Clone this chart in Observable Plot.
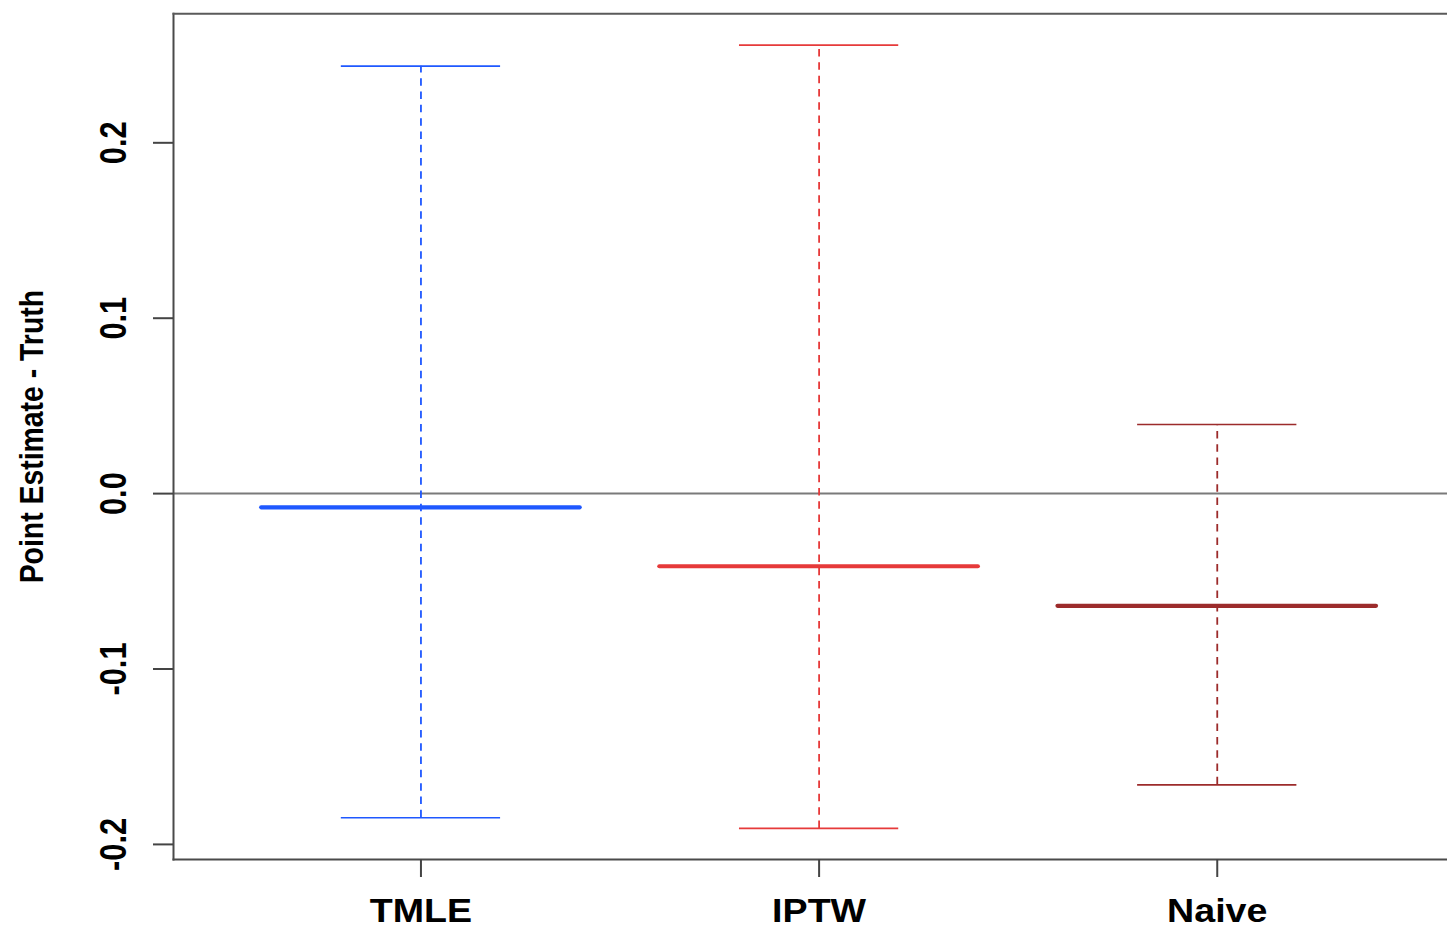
<!DOCTYPE html>
<html>
<head>
<meta charset="utf-8">
<script src="https://cdn.jsdelivr.net/npm/d3@7"></script>
<script src="https://cdn.jsdelivr.net/npm/@observablehq/plot@0.6"></script>
<style>
  html, body { margin: 0; padding: 0; background: #fff; overflow: hidden; }
  svg { display: block; }
</style>
</head>
<body>
<script>
// ---- data ----
const methods = ["TMLE", "IPTW", "Naive"];
const medians = [-0.0078, -0.0414, -0.0640];
const upper   = [0.2437, 0.2557, 0.0394];
const lower   = [-0.1848, -0.1909, -0.1660];
const colors  = ["#1f58ff", "#e63a3a", "#9c2b2b"];
const yTicks  = [-0.2, -0.1, 0.0, 0.1, 0.2];
const yTitle  = "Point Estimate - Truth";

const rows = methods.map((m, i) => ({
  method: m, pos: i + 1, median: medians[i], hi: upper[i], lo: lower[i], color: colors[i]
}));

const boxHalf = 0.4;   // half box width (x units)
const capHalf = 0.2;   // half staple width (x units)

const chart = Plot.plot({
  width: 1447,
  height: 925,
  marginLeft: 173,
  marginRight: 0,
  marginTop: 13.3,
  marginBottom: 66,
  style: { fontFamily: "'Liberation Sans', Arial, sans-serif", background: "#fff", color: "#000" },
  x: { type: "linear", domain: [0.3785, 3.5783], axis: null },
  y: { domain: [-0.2086, 0.27355], axis: null },
  marks: [
    Plot.ruleY([0], { stroke: "#7a7a7a", strokeWidth: 2 }),
    // whiskers
    Plot.ruleX(rows, { x: "pos", y1: "lo", y2: "hi", stroke: "color", strokeWidth: 1.8, strokeDasharray: "7.5,5.8" }),
    // staples
    Plot.ruleY(rows, { y: "hi", x1: d => d.pos - capHalf, x2: d => d.pos + capHalf, stroke: "color", strokeWidth: 1.7 }),
    Plot.ruleY(rows, { y: "lo", x1: d => d.pos - capHalf, x2: d => d.pos + capHalf, stroke: "color", strokeWidth: 1.7 }),
    // medians
    Plot.ruleY(rows, { y: "median", x1: d => d.pos - boxHalf, x2: d => d.pos + boxHalf, stroke: "color", strokeWidth: 4.2, strokeLinecap: "round" }),
    // frame (left, top, bottom)
    Plot.frame({ anchor: "left", stroke: "#4a4a4a", strokeWidth: 2 }),
    Plot.frame({ anchor: "top", stroke: "#5a5a5a", strokeWidth: 2 }),
    Plot.frame({ anchor: "bottom", stroke: "#4a4a4a", strokeWidth: 2 }),
    // axis ticks
    Plot.axisY(yTicks, { anchor: "left", tickSize: 20, tickFormat: () => "", label: null, stroke: "#444", strokeWidth: 2 }),
    Plot.axisX(rows.map(d => d.pos), { anchor: "bottom", tickSize: 18, tickFormat: () => "", label: null, stroke: "#444", strokeWidth: 2 }),
    // y tick labels
    Plot.text(yTicks, {
      y: d => d, text: d => d.toFixed(1).replace("-0.0", "0.0"),
      frameAnchor: "left", dx: -48, rotate: -90, lineAnchor: "bottom", textAnchor: "middle",
      fontSize: 36, fontWeight: "bold", fill: "#000", className: "ytl"
    }),
    // x labels
    Plot.text(rows, {
      x: "pos", text: "method", frameAnchor: "bottom", dy: 62, lineAnchor: "bottom", textAnchor: "middle",
      fontSize: 33, fontWeight: "bold", fill: "#000", className: "xtl"
    }),
    // y title
    Plot.text([yTitle], {
      text: d => d, frameAnchor: "left", dx: -131, rotate: -90, lineAnchor: "bottom", textAnchor: "middle",
      fontSize: 34, fontWeight: "bold", fill: "#000", className: "ytitle"
    })
  ]
});

document.body.append(chart);

// emulate the horizontal stretch of the reference image
function squeeze(sel, k) {
  d3.select(chart).selectAll(sel).each(function () {
    const L = this.getComputedTextLength();
    this.setAttribute("textLength", (L * k).toFixed(2));
    this.setAttribute("lengthAdjust", "spacingAndGlyphs");
  });
}
squeeze(".ytl text", 0.855);
squeeze(".xtl text", 1.14);
squeeze(".ytitle text", 0.835);
</script>
</body>
</html>
